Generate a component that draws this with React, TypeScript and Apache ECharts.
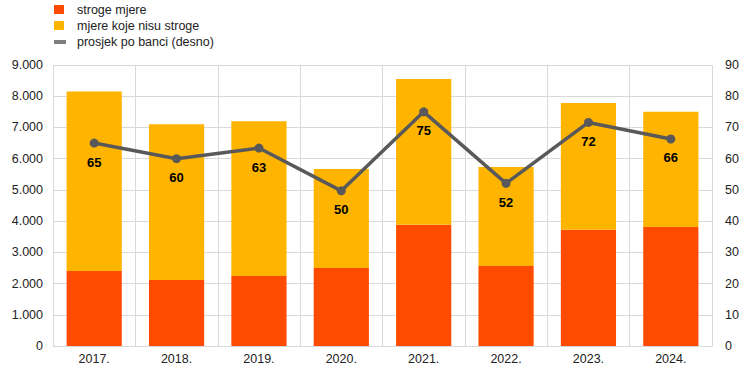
import React, { useEffect, useRef } from "react";
import * as echarts from "echarts";

const categories = ["2017.", "2018.", "2019.", "2020.", "2021.", "2022.", "2023.", "2024."];
const strictValues = [2400, 2110, 2240, 2500, 3880, 2560, 3720, 3810];
const nonStrictValues = [5750, 4990, 4960, 3170, 4670, 3170, 4060, 3690];
const avgPerBank = [65, 60, 63.4, 49.7, 75, 52.1, 71.6, 66.3];
const leftTicks = { min: 0, max: 9000, interval: 1000 };
const rightTicks = { min: 0, max: 90, interval: 10 };
const seriesNames = ["stroge mjere", "mjere koje nisu stroge", "prosjek po banci (desno)"];

const FONT = "'Liberation Sans', Arial, sans-serif";
const TXT = "#222222";
const GRID = "#d9d9d9";
const FS = 12.5;

function fmtThousands(v: number): string {
  return String(v).replace(/\B(?=(\d{3})+(?!\d))/g, ".");
}

export default function App() {
  const ref = useRef<HTMLDivElement>(null);
  useEffect(() => {
    if (!ref.current) return;
    const chart = echarts.init(ref.current, null, { renderer: "svg" });
    const legendColors = ["#FF4B00", "#FFB400", "#7f7f7f"];
    const graphics: any[] = [];
    const ys = [10, 26, 42];
    seriesNames.forEach((n, i) => {
      if (i < 2) {
        graphics.push({ type: "rect", left: 54, top: ys[i] - 5, shape: { width: 10, height: 9 }, style: { fill: legendColors[i] } });
      } else {
        graphics.push({ type: "rect", left: 54, top: ys[i] - 2, shape: { width: 12, height: 4 }, style: { fill: legendColors[i] } });
      }
      graphics.push({
        type: "text",
        left: 77,
        top: ys[i] - 7,
        style: { text: n, fill: TXT, font: `${FS}px ${FONT}` },
      });
    });
    chart.setOption({
      animation: false,
      textStyle: { fontFamily: FONT },
      graphic: graphics,
      grid: { left: 53, right: 31, top: 65, bottom: 27, containLabel: false },
      xAxis: {
        type: "category",
        data: categories,
        axisLine: { show: true, lineStyle: { color: GRID } },
        axisTick: { show: false },
        splitLine: { show: true, lineStyle: { color: GRID } },
        axisLabel: { color: TXT, fontSize: FS, fontFamily: FONT, margin: 6 },
      },
      yAxis: [
        {
          type: "value",
          min: leftTicks.min,
          max: leftTicks.max,
          interval: leftTicks.interval,
          axisLine: { show: false },
          axisTick: { show: false },
          splitLine: { show: true, lineStyle: { color: GRID } },
          axisLabel: { color: TXT, fontSize: FS, fontFamily: FONT, margin: 10, formatter: (v: number) => fmtThousands(v) },
        },
        {
          type: "value",
          min: rightTicks.min,
          max: rightTicks.max,
          interval: rightTicks.interval,
          position: "right",
          axisLine: { show: false },
          axisTick: { show: false },
          splitLine: { show: false },
          axisLabel: { color: TXT, fontSize: FS, fontFamily: FONT, margin: 13 },
        },
      ],
      series: [
        {
          name: seriesNames[0],
          type: "bar",
          stack: "a",
          data: strictValues,
          barCategoryGap: "33%",
          itemStyle: { color: "#FF4B00" },
        },
        {
          name: seriesNames[1],
          type: "bar",
          stack: "a",
          data: nonStrictValues,
          barCategoryGap: "33%",
          itemStyle: { color: "#FFB400" },
        },
        {
          name: seriesNames[2],
          type: "line",
          yAxisIndex: 1,
          data: avgPerBank,
          symbol: "circle",
          symbolSize: 9,
          lineStyle: { color: "#595959", width: 3.5 },
          itemStyle: { color: "#595959" },
          label: {
            show: true,
            position: "bottom",
            distance: 8,
            color: "#000",
            fontWeight: "bold",
            fontSize: 13,
            fontFamily: FONT,
            formatter: (p: any) => String(Math.round(p.value)),
          },
          z: 5,
        },
      ],
    });
    return () => chart.dispose();
  }, []);
  return <div ref={ref} style={{ width: 743, height: 373, position: "absolute", left: 0, top: 0 }} />;
}
